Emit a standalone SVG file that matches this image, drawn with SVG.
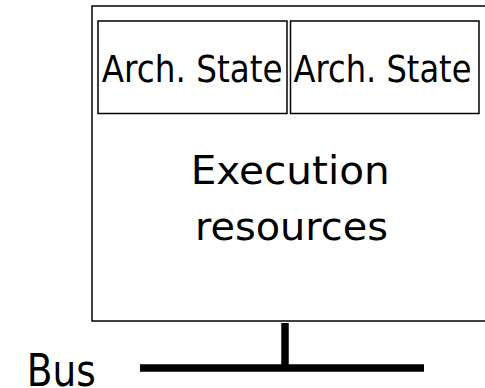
<svg xmlns="http://www.w3.org/2000/svg" width="485" height="388" viewBox="0 0 485 388">
  <style>
    .box { fill: #ffffff; stroke: #000000; stroke-width: 1.5; }
    .label { font-family: "DejaVu Sans", Verdana, sans-serif; fill: #000000; }
    .wire { stroke: #000000; stroke-width: 7.5; fill: none; }
  </style>
  <rect width="485" height="388" fill="#ffffff"/>

  <!-- processor core: right edge runs past the canvas -->
  <g id="core">
    <rect class="box" x="92" y="6" width="420" height="315"/>
    <text class="label" font-size="39" x="190.7" y="183.5" textLength="199" lengthAdjust="spacingAndGlyphs">Execution</text>
    <text class="label" font-size="39" x="195" y="240" textLength="193" lengthAdjust="spacingAndGlyphs">resources</text>
  </g>

  <g id="arch-state-1">
    <rect class="box" x="98" y="21" width="189" height="92.5"/>
    <text class="label" font-size="38" x="101.7" y="82" textLength="181" lengthAdjust="spacingAndGlyphs">Arch. State</text>
  </g>

  <g id="arch-state-2">
    <rect class="box" x="290.5" y="21" width="188.5" height="92.5"/>
    <text class="label" font-size="38" x="293.5" y="82" textLength="178" lengthAdjust="spacingAndGlyphs">Arch. State</text>
  </g>

  <g id="bus">
    <text class="label" font-size="44" x="26.7" y="385.5" textLength="69" lengthAdjust="spacingAndGlyphs">Bus</text>
  </g>

  <!-- connection from the core down to the bus line -->
  <g id="connectors">
    <line class="wire" x1="140" y1="368" x2="424" y2="368"/>
    <line class="wire" x1="285" y1="323" x2="285" y2="368"/>
  </g>
</svg>
